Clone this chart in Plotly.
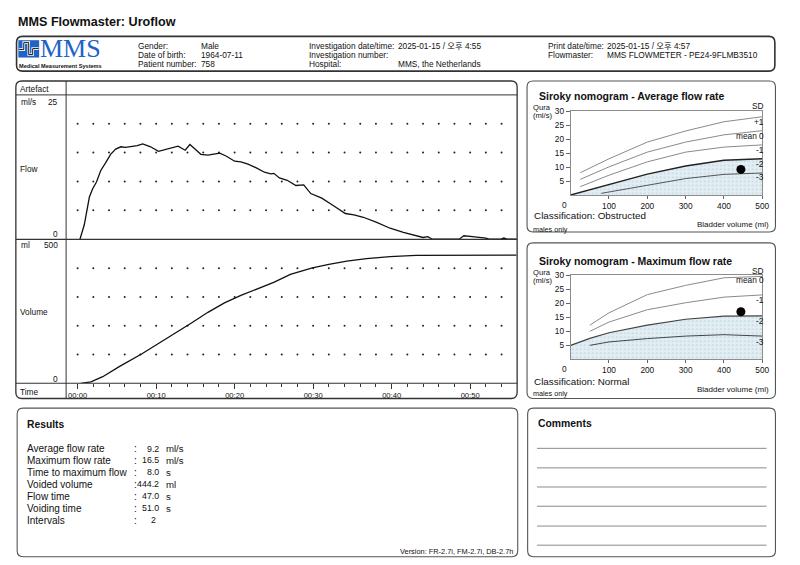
import numpy as np
import plotly.graph_objects as go

# ---------------- DATA ----------------
# Uroflow flow curve (time s, flow ml/s)
flow_t = [0.3, 0.85, 1.5, 1.9, 2.4, 2.95, 3.6, 4.2, 4.85, 5.5, 6.1, 6.75, 7.6, 8.3, 9.3,
          10.3, 11.2, 12.0, 12.8, 13.7, 14.3, 14.95, 15.7, 16.6, 17.3, 18.1, 18.9, 20.0,
          20.8, 21.7, 22.7, 23.8, 24.6, 25.0, 25.7, 26.7, 27.8, 28.8, 29.7, 31.1, 32.6,
          34.1, 35.2, 36.4, 38.1, 39.8, 41.5, 42.9, 44.0, 44.6, 45.2, 48.6, 49.2, 50.3,
          52.0, 52.4, 53.9, 54.3, 54.7, 55.9]
flow_v = [0, 2.5, 7.3, 8.7, 9.9, 11.9, 13.3, 14.7, 15.6, 16.0, 15.9, 16.0, 16.2, 16.5, 16.0,
          15.2, 15.5, 15.8, 16.1, 15.4, 16.4, 15.6, 14.7, 14.55, 14.7, 14.9, 14.4, 13.5,
          13.4, 13.0, 12.4, 11.6, 11.3, 11.4, 10.6, 10.2, 9.3, 9.4, 7.9, 7.1, 5.8,
          4.45, 4.2, 3.8, 2.9, 1.9, 1.2, 0.75, 0.3, 0.45, 0, 0, 0.6, 0.45,
          0.2, 0, 0, 0.2, 0, 0]

# Voided volume curve (time s, volume ml)
vol_t = [0.4, 1.7, 3.2, 5.3, 8.2, 10.3, 12.4, 14.5, 16.6, 18.7, 20.8, 22.9, 25.05, 27.1,
         29.9, 32.0, 34.3, 36.8, 39.8, 43.1, 48.2, 55.9]
vol_v = [0, 5, 23, 58, 103, 138, 172, 210, 247, 280, 306, 330, 352, 379,
         402, 414, 425, 434, 441, 445, 446, 446]

time_tick_vals = [0, 10, 20, 30, 40, 50]
time_tick_text = ["00:00", "00:10", "00:20", "00:30", "00:40", "00:50"]

# Siroky nomogram - average flow rate
avg_sd_x = [25, 100, 200, 300, 400, 500]
avg_p1 = [8.0, 13.0, 19.0, 23.0, 26.3, 28.1]
avg_m0 = [5.6, 10.1, 15.4, 19.0, 21.6, 23.1]
avg_m1 = [3.0, 7.1, 11.9, 15.4, 17.2, 18.0]
avg_m2_x = [0, 100, 200, 300, 400, 500]
avg_m2 = [0, 3.8, 7.5, 10.4, 12.5, 13.0]
avg_m3_x = [80, 200, 300, 400, 500]
avg_m3 = [0.6, 3.6, 5.9, 7.4, 7.9]
avg_point = (444.2, 9.2)

# Siroky nomogram - maximum flow rate
max_sd_x = [50, 100, 200, 300, 400, 500]
max_m0 = [12.2, 16.6, 23.1, 26.4, 29.1, 29.6]
max_m1 = [10.0, 13.3, 17.7, 20.2, 22.2, 23.0]
max_m2_x = [0, 50, 100, 200, 300, 400, 500]
max_m2 = [5.0, 7.5, 9.5, 12.2, 14.3, 15.4, 15.5]
max_m3 = [5.0, 6.2, 7.4, 8.3, 8.8, 8.3]
max_point = (444.2, 17.0)

# Results
res_labels = ["Average flow rate", "Maximum flow rate", "Time to maximum flow",
              "Voided volume", "Flow time", "Voiding time", "Intervals"]
res_values = ["9.2", "16.5", "8.0", "444.2", "47.0", "51.0", "2"]
res_units = ["ml/s", "ml/s", "s", "ml", "s", "s", ""]

# Header
hdr_left_labels = ["Gender:", "Date of birth:", "Patient number:"]
hdr_left_values = ["Male", "1964-07-11", "758"]
hdr_mid_labels = ["Investigation date/time:", "Investigation number:", "Hospital:"]
hdr_mid_values = ["2025-01-15 / 오후 4:55", "", "MMS, the Netherlands"]
hdr_right_labels = ["Print date/time:", "Flowmaster:"]
hdr_right_values = ["2025-01-15 / 오후 4:57", "MMS FLOWMETER - PE24-9FLMB3510"]

# ---------------- LAYOUT HELPERS ----------------
W, H = 800, 565
FONT = "Liberation Sans, Arial, Noto Sans CJK KR, sans-serif"


def X(px):
    return px / W


def Y(py):
    return 1 - py / H


shapes = []
anns = []


def rrect(x0, y0, x1, y1, r=6, color="#444", width=1.3):
    rx, ry = r / W, r / H
    a, b, c, d = X(x0), Y(y0), X(x1), Y(y1)
    p = (f"M {a+rx},{b} L {c-rx},{b} Q {c},{b} {c},{b-ry} L {c},{d+ry} Q {c},{d} {c-rx},{d} "
         f"L {a+rx},{d} Q {a},{d} {a},{d+ry} L {a},{b-ry} Q {a},{b} {a+rx},{b} Z")
    shapes.append(dict(type="path", path=p, xref="paper", yref="paper",
                       line=dict(color=color, width=width)))


def hline(x0, x1, y, color="#444", width=1):
    shapes.append(dict(type="line", xref="paper", yref="paper", x0=X(x0), x1=X(x1),
                       y0=Y(y), y1=Y(y), line=dict(color=color, width=width)))


def vline(x, y0, y1, color="#444", width=1):
    shapes.append(dict(type="line", xref="paper", yref="paper", x0=X(x), x1=X(x),
                       y0=Y(y0), y1=Y(y1), line=dict(color=color, width=width)))


def txt(x, y, s, size=8.3, anchor="left", color="#111", family=FONT):
    anns.append(dict(x=X(x), y=Y(y), xref="paper", yref="paper", text=s, showarrow=False,
                     xanchor=anchor, yanchor="middle", borderpad=0,
                     font=dict(size=size, color=color, family=family)))


# ---------------- FIGURE ----------------
fig = go.Figure()

# grid dots (every 2 s)
grid_t = np.arange(0, 55, 2)
for lev in [5, 10, 15, 20]:
    fig.add_trace(go.Scatter(x=grid_t, y=[lev] * len(grid_t), mode="markers",
                             marker=dict(size=2, color="#222"), xaxis="x", yaxis="y",
                             hoverinfo="skip"))
for lev in [100, 200, 300, 400]:
    fig.add_trace(go.Scatter(x=grid_t, y=[lev] * len(grid_t), mode="markers",
                             marker=dict(size=2, color="#222"), xaxis="x2", yaxis="y2",
                             hoverinfo="skip"))

fig.add_trace(go.Scatter(x=flow_t, y=flow_v, mode="lines", line=dict(color="#111", width=1.3),
                         xaxis="x", yaxis="y", cliponaxis=False))
fig.add_trace(go.Scatter(x=vol_t, y=vol_v, mode="lines", line=dict(color="#111", width=1.3),
                         xaxis="x2", yaxis="y2", cliponaxis=False))

shade = dict(fill="tozeroy", fillcolor="#e2eef3",
             fillpattern=dict(shape=".", fgcolor="#a8c4cf", bgcolor="#e2eef3", size=4,
                              solidity=0.2))
light = dict(color="#8a8a8a", width=1)

# Average nomogram
fig.add_trace(go.Scatter(x=avg_m2_x, y=avg_m2, mode="lines", line=dict(color="#222", width=1.4),
                         xaxis="x3", yaxis="y3", **shade))
fig.add_trace(go.Scatter(x=avg_m3_x, y=avg_m3, mode="lines", line=dict(color="#555", width=1),
                         xaxis="x3", yaxis="y3"))
for ys in [avg_p1, avg_m0, avg_m1]:
    fig.add_trace(go.Scatter(x=avg_sd_x, y=ys, mode="lines", line=light, xaxis="x3", yaxis="y3"))
fig.add_trace(go.Scatter(x=[avg_point[0]], y=[avg_point[1]], mode="markers",
                         marker=dict(size=9, color="#000"), xaxis="x3", yaxis="y3"))

# Maximum nomogram
fig.add_trace(go.Scatter(x=max_m2_x, y=max_m2, mode="lines", line=dict(color="#444", width=1.2),
                         xaxis="x4", yaxis="y4", **shade))
fig.add_trace(go.Scatter(x=max_sd_x, y=max_m3, mode="lines", line=dict(color="#444", width=1),
                         xaxis="x4", yaxis="y4"))
for ys in [max_m0, max_m1]:
    fig.add_trace(go.Scatter(x=max_sd_x, y=ys, mode="lines", line=light, xaxis="x4", yaxis="y4"))
fig.add_trace(go.Scatter(x=[max_point[0]], y=[max_point[1]], mode="markers",
                         marker=dict(size=9, color="#000"), xaxis="x4", yaxis="y4"))

# ---------------- AXES ----------------
t0px, tpx = 78.3, 7.92
trange = [(66.7 - t0px) / tpx, (521.7 - t0px) / tpx]
xdom = [X(66.7), X(521.7)]
hidden = dict(showgrid=False, zeroline=False, showline=False, showticklabels=False, ticks="")

nomo_x = dict(range=[0, 500], domain=[X(575.7), X(769)], showgrid=False, zeroline=False,
              showline=True, mirror=True, linecolor="#8c8c8c", linewidth=1,
              tickvals=[100, 200, 300, 400, 500], ticks="outside", ticklen=3,
              tickcolor="#666", tickfont=dict(size=8.3, family=FONT, color="#111"))
nomo_y = dict(range=[0, 30], showgrid=False, zeroline=False, showline=True, mirror=True,
              linecolor="#8c8c8c", linewidth=1, tickvals=[5, 10, 15, 20, 25, 30],
              ticks="outside", ticklen=4, tickcolor="#666",
              tickfont=dict(size=8.3, family=FONT, color="#111"))

fig.update_layout(
    width=W, height=H, margin=dict(l=0, r=0, t=0, b=0), autosize=False,
    paper_bgcolor="white", plot_bgcolor="rgba(0,0,0,0)", showlegend=False,
    xaxis=dict(range=trange, domain=xdom, anchor="y", **hidden),
    yaxis=dict(range=[0, 25], domain=[Y(236.3), Y(90.6)], anchor="x", **hidden),
    xaxis2=dict(range=trange, domain=xdom, anchor="y2", showgrid=False, zeroline=False,
                showline=False, tickvals=time_tick_vals, ticktext=time_tick_text,
                ticks="outside", ticklen=4.5, tickcolor="#333",
                tickfont=dict(size=7.6, family=FONT, color="#111"),
                minor=dict(dtick=2, tick0=0, ticks="outside", ticklen=2.5, tickcolor="#333")),
    yaxis2=dict(range=[0, 500], domain=[Y(381.7), Y(236.7)], anchor="x2", **hidden),
    xaxis3=dict(anchor="y3", **nomo_x),
    yaxis3=dict(anchor="x3", domain=[Y(191.7), Y(107.4)], **nomo_y),
    xaxis4=dict(anchor="y4", **nomo_x),
    yaxis4=dict(anchor="x4", domain=[Y(357.5), Y(272.7)], **nomo_y),
)

# ---------------- SHAPES ----------------
# header
rrect(16.7, 31.7, 781.7, 66.7, 6, "#333", 1.6)
# logo icon
shapes.append(dict(type="rect", xref="paper", yref="paper", x0=X(18.5), x1=X(39.5),
                   y0=Y(53), y1=Y(35.5), fillcolor="#1f63c6", line=dict(width=0)))
logo_path = " ".join(
    f"{'M' if i == 0 else 'L'} {X(px)},{Y(py)}" for i, (px, py) in enumerate(
        [(19, 45), (24, 45), (24, 38), (29, 38), (29, 50), (33, 50), (33, 44), (39, 44)]))
shapes.append(dict(type="path", path=logo_path, xref="paper", yref="paper",
                   line=dict(color="white", width=2.6)))
shapes.append(dict(type="path", path=logo_path, xref="paper", yref="paper",
                   line=dict(color="#111", width=1)))

# main chart box
rrect(16, 76.7, 521.7, 397, 6, "#333", 1.3)
vline(66.7, 76.7, 397, "#333", 1)
hline(16, 521.7, 90.7, "#333", 1)
hline(16, 521.7, 236.5, "#333", 1.1)
hline(16, 521.7, 381.7, "#333", 1.1)

# nomogram boxes
rrect(531.7, 76.7, 782.3, 229, 6, "#555", 1.1)
rrect(531.7, 240, 782.3, 397, 6, "#555", 1.1)
# results / comments boxes
rrect(17.3, 406.7, 522.3, 556.7, 6, "#555", 1.1)
rrect(532.3, 406.7, 782.3, 556.7, 6, "#555", 1.1)
for yy in [447.3, 467, 486.3, 505.7, 525.7, 545]:
    hline(541.7, 773.3, yy, "#8a8a8a", 1)

# ---------------- TEXT ----------------
txt(17, 17, "<b>MMS Flowmaster: Uroflow</b>", 12.6)
txt(39.5, 44, "MMS", 26, color="#1f63c6", family="Liberation Serif, Times New Roman, serif")
txt(18, 61.3, "<b>Medical Measurement Systems</b>", 5.6)

for i, yy in enumerate([41, 50, 59.5]):
    txt(138.3, yy, hdr_left_labels[i])
    txt(201.7, yy, hdr_left_values[i])
    txt(311, yy, hdr_mid_labels[i])
    if hdr_mid_values[i]:
        txt(401, yy, hdr_mid_values[i])
for i, yy in enumerate([41, 50]):
    txt(551.7, yy, hdr_right_labels[i])
    txt(611.7, yy, hdr_right_values[i])

# main chart left column
txt(19.3, 84.3, "Artefact", 8.3)
txt(20, 98, "ml/s", 8.3)
txt(60, 98, "25", 8.3, "right")
txt(19.3, 165, "Flow", 8.3)
txt(60, 231.5, "0", 8.3, "right")
txt(20, 242.5, "ml", 8.3)
txt(60, 242.5, "500", 8.3, "right")
txt(19.3, 310, "Volume", 8.3)
txt(60, 377.5, "0", 8.3, "right")
txt(19.3, 390, "Time", 8.3)

# nomogram texts
for top, title, cls, labels in [
        (0, "Siroky nomogram - Average flow rate", "Classification: Obstructed",
         [("SD", 102), ("+1", 118.3), ("mean 0", 132), ("-1", 146.7), ("-2", 160), ("-3", 174)]),
        (1, "Siroky nomogram - Maximum flow rate", "Classification: Normal",
         [("SD", 268.3), ("mean 0", 277.7), ("-1", 297.7), ("-2", 319.3), ("-3", 340)])]:
    if top == 0:
        ty, qy, zy, cy, by, my = 91.7, 103.5, 201.7, 212.7, 221, 226.3
    else:
        ty, qy, zy, cy, by, my = 258.3, 269.5, 367.3, 380, 387.7, 392
    txt(542.7, ty, f"<b>{title}</b>", 10.5)
    txt(536.5, qy, "Qura", 7.6)
    txt(536.5, qy + 8, "(ml/s)", 7.6)
    txt(569, zy, "0", 8.3, "center")
    txt(537.3, cy, cls, 9.9)
    txt(777.3, by, "Bladder volume (ml)", 8, "right")
    txt(536.7, my, "males only", 7.2)
    for lab, yy in labels:
        txt(771.5, yy, lab, 8.3, "right")

# results
txt(26.7, 423.3, "<b>Results</b>", 10.3)
for i, yy in enumerate([447.7, 459.3, 471.2, 483.5, 495.5, 507.5, 519.7]):
    txt(26.7, yy, res_labels[i], 10)
    txt(133.8, yy, ":", 10)
    xr = 161.7 if "." in res_values[i] else 158.3
    txt(xr, yy, res_values[i], 8.8, "right")
    if res_units[i]:
        txt(166.7, yy, res_units[i], 9.6)
txt(518.3, 551.5, "Version: FR-2.7i, FM-2.7i, DB-2.7h", 7.4, "right")

# comments
txt(541.7, 422.3, "<b>Comments</b>", 10.4)

fig.update_layout(shapes=shapes, annotations=anns)
fig.write_html("out.html", config={"displayModeBar": False},
               post_script="document.body.style.margin='0';document.body.style.overflow='hidden';")
